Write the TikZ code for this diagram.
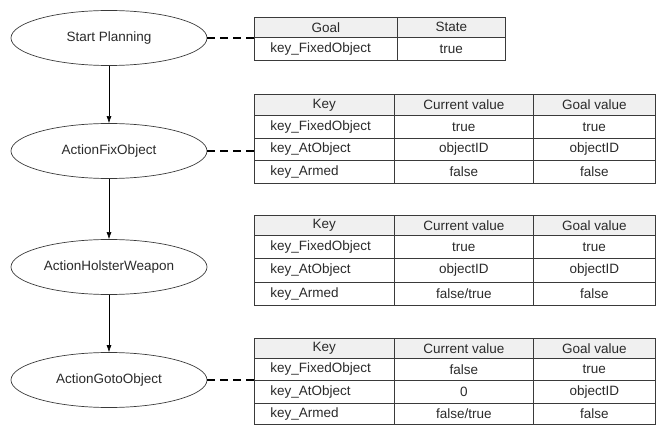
\documentclass[tikz,border=0pt]{standalone}
\usepackage{fontspec}
\setmainfont{Liberation Sans}
\usepackage{tikz}
\usetikzlibrary{shapes,arrows.meta}
\definecolor{rule}{HTML}{3A3A3A}
\definecolor{headfill}{HTML}{F0F0F0}
\definecolor{ink}{HTML}{2A2A2A}
\tikzstyle{state} = [draw=rule, ellipse, line width=0.7pt, minimum width=196pt, minimum height=55pt, text=ink]
\tikzstyle{line} = [draw, line width=0.6pt, -{Latex[length=7pt,width=5pt]}]
\tikzstyle{linedash} = [draw, line width=1.8pt, dash pattern=on 8pt off 5pt]
\tikzstyle{cell} = [draw=rule, line width=0.7pt, anchor=north west, minimum height=22pt, inner sep=0pt, text=ink]
\tikzstyle{head} = [cell, fill=headfill, minimum height=20pt]
\tikzstyle{keycell} = [cell, align=left, inner xsep=16pt]

\begin{document}
\begin{tikzpicture}[x=1pt, y=-1pt, every node/.style={font=\fontsize{13.5}{15}\selectfont}]
		    \useasboundingbox (0,0) rectangle (657,425);
		                % planning steps
		                \node [state] (start) at (109,38) {Start Planning};
		                \node [state] (fix) at (109,151) {ActionFixObject};
		                \node [state] (holster) at (109,267) {ActionHolsterWeapon};
		                \node [state] (gotoobj) at (109,380) {ActionGotoObject};
		                % goal table
		                \node [head, minimum width=143pt] (goalh1) at (254,17) {Goal};
		                \node [head, minimum width=108pt] (goalh2) at (397,17) {State};
		                \node [keycell, text width=111pt, minimum height=23pt] (goala1) at (254,37) {key\_FixedObject};
		                \node [cell, minimum width=108pt, minimum height=23pt] (goala2) at (397,37) {true};
		                % table for ActionFixObject
		                \node [head, minimum width=140pt, minimum height=21pt] (fixh1) at (254,94) {Key};
		                \node [head, minimum width=139pt, minimum height=21pt] (fixh2) at (394,94) {Current value};
		                \node [head, minimum width=122pt, minimum height=21pt] (fixh3) at (533,94) {Goal value};
		                \node [keycell, text width=108pt, minimum height=23pt] (fixa1) at (254,115) {key\_FixedObject};
		                \node [cell, minimum width=139pt, minimum height=23pt] (fixa2) at (394,115) {true};
		                \node [cell, minimum width=122pt, minimum height=23pt] (fixa3) at (533,115) {true};
		                \node [keycell, text width=108pt] (fixb1) at (254,138) {key\_AtObject};
		                \node [cell, minimum width=139pt] (fixb2) at (394,138) {objectID};
		                \node [cell, minimum width=122pt] (fixb3) at (533,138) {objectID};
		                \node [keycell, text width=108pt, minimum height=23pt] (fixc1) at (254,160) {key\_Armed};
		                \node [cell, minimum width=139pt, minimum height=23pt] (fixc2) at (394,160) {false};
		                \node [cell, minimum width=122pt, minimum height=23pt] (fixc3) at (533,160) {false};
		                % table for ActionHolsterWeapon
		                \node [head, minimum width=140pt] (holh1) at (254,215) {Key};
		                \node [head, minimum width=139pt] (holh2) at (394,215) {Current value};
		                \node [head, minimum width=122pt] (holh3) at (533,215) {Goal value};
		                \node [keycell, text width=108pt, minimum height=23pt] (hola1) at (254,235) {key\_FixedObject};
		                \node [cell, minimum width=139pt, minimum height=23pt] (hola2) at (394,235) {true};
		                \node [cell, minimum width=122pt, minimum height=23pt] (hola3) at (533,235) {true};
		                \node [keycell, text width=108pt, minimum height=24pt] (holb1) at (254,258) {key\_AtObject};
		                \node [cell, minimum width=139pt, minimum height=24pt] (holb2) at (394,258) {objectID};
		                \node [cell, minimum width=122pt, minimum height=24pt] (holb3) at (533,258) {objectID};
		                \node [keycell, text width=108pt, minimum height=23pt] (holc1) at (254,282) {key\_Armed};
		                \node [cell, minimum width=139pt, minimum height=23pt] (holc2) at (394,282) {false/true};
		                \node [cell, minimum width=122pt, minimum height=23pt] (holc3) at (533,282) {false};
		                % table for ActionGotoObject
		                \node [head, minimum width=140pt] (goh1) at (254,338) {Key};
		                \node [head, minimum width=139pt] (goh2) at (394,338) {Current value};
		                \node [head, minimum width=122pt] (goh3) at (533,338) {Goal value};
		                \node [keycell, text width=108pt] (goa1) at (254,358) {key\_FixedObject};
		                \node [cell, minimum width=139pt] (goa2) at (394,358) {false};
		                \node [cell, minimum width=122pt] (goa3) at (533,358) {true};
		                \node [keycell, text width=108pt, minimum height=23pt] (gob1) at (254,380) {key\_AtObject};
		                \node [cell, minimum width=139pt, minimum height=23pt] (gob2) at (394,380) {0};
		                \node [cell, minimum width=122pt, minimum height=23pt] (gob3) at (533,380) {objectID};
		                \node [keycell, text width=108pt, minimum height=21pt] (goc1) at (254,403) {key\_Armed};
		                \node [cell, minimum width=139pt, minimum height=21pt] (goc2) at (394,403) {false/true};
		                \node [cell, minimum width=122pt, minimum height=21pt] (goc3) at (533,403) {false};
		                % connectors
		                \path [line] (start) -- (fix);
		                \path [line] (fix) -- (holster);
		                \path [line] (holster) -- (gotoobj);
		                \path [linedash] (start.east) -- (start.east -| goala1.west);
		                \path [linedash] (fix.east) -- (fix.east -| fixb1.west);
		                \path [linedash] (gotoobj.east) -- (gotoobj.east -| gob1.west);
		            \end{tikzpicture}
\end{document}
